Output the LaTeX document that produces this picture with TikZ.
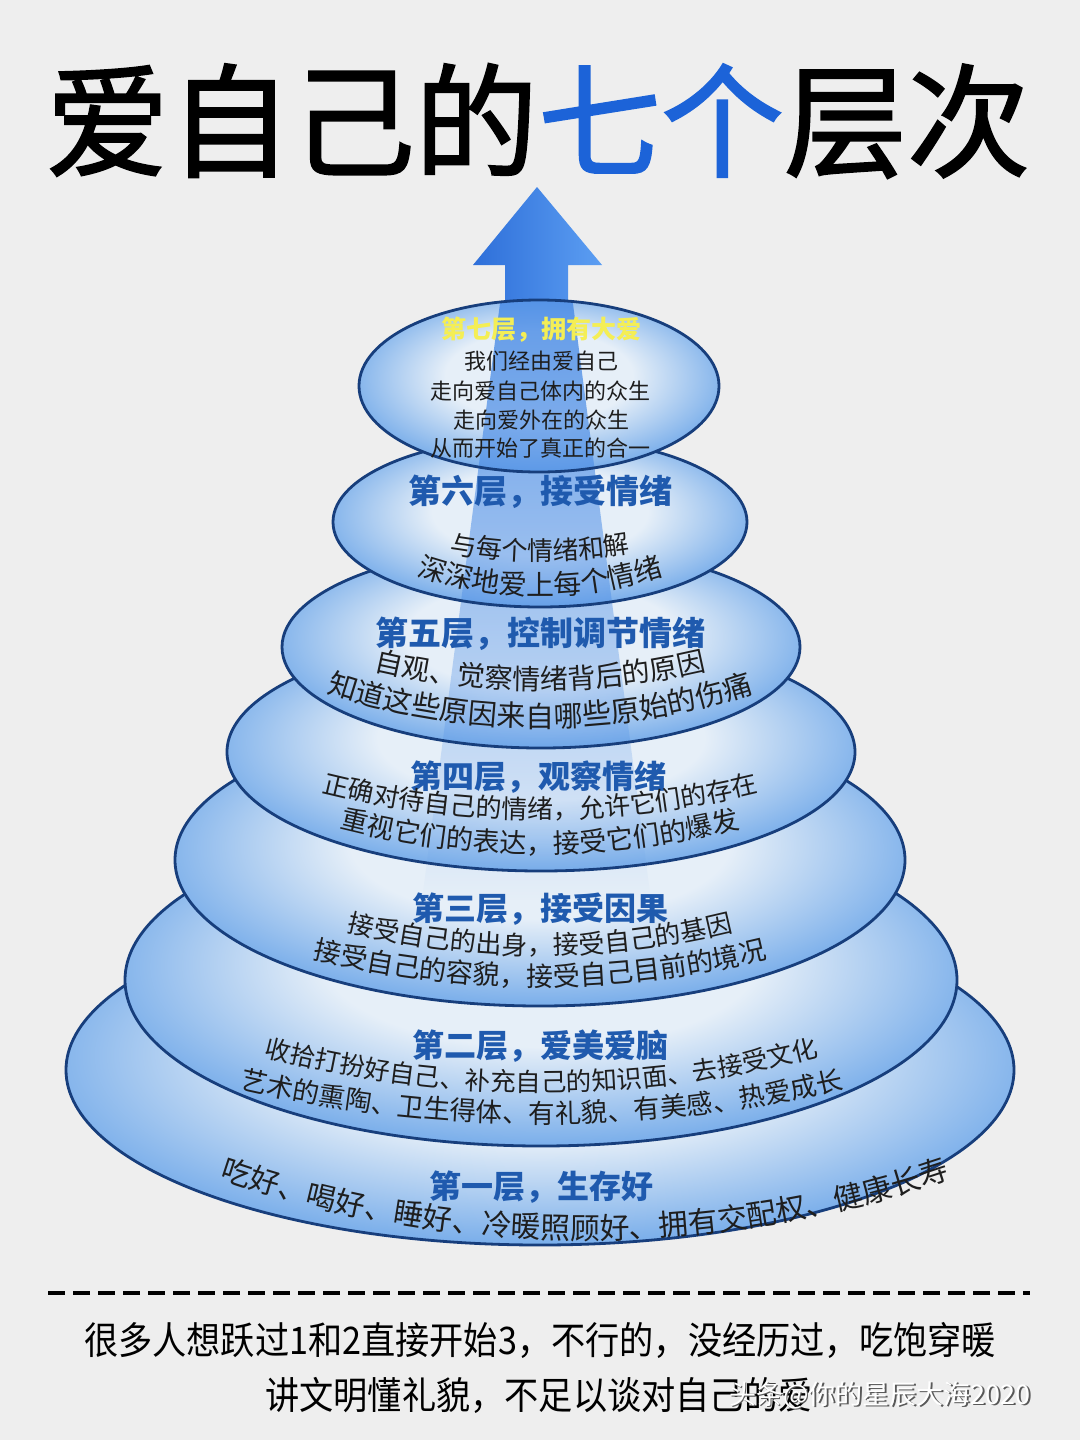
\documentclass[tikz,border=0pt]{standalone}
\usepackage{fontspec}
\setmainfont{Noto Sans CJK SC}
\newfontfamily\titlefont{Noto Sans CJK SC}[FakeBold=1.6]
\usepackage{graphicx}
\usetikzlibrary{decorations.text,fadings}
\definecolor{bgcol}{HTML}{EEEEEE}
\definecolor{lyrin}{HTML}{E6EFF8}
\definecolor{lyrout}{HTML}{78ADEA}
\definecolor{outlinec}{HTML}{173E7C}
\definecolor{headblue}{HTML}{1F5AAE}
\definecolor{bodytext}{HTML}{1E1E1E}
\definecolor{beamblue}{HTML}{4A8CE6}
\definecolor{headyellow}{HTML}{F4EE55}
\definecolor{titleblue}{HTML}{1C63D8}
\definecolor{arrowa}{HTML}{2E6FD9}
\definecolor{arrowb}{HTML}{5C9EF2}
\pgfdeclareradialshading{layershade}{\pgfpoint{0bp}{4bp}}{color(0bp)=(lyrin); color(13bp)=(lyrin); color(27bp)=(lyrout); color(50bp)=(lyrout)}
\tikzfading[name=beamfade, top color=transparent!10, bottom color=transparent!100]
% cx, ymid (glyph centre at lowest point), R, half angle, font size, text
\newcommand{\curvetext}[6]{%
  \path[decorate, decoration={text along path, text align=center,
    text={|\fontsize{#5}{#5}\selectfont\color{bodytext}|#6}}]
    ([shift={(90+#4:#3)}] #1,{#2+0.38*#5-#3}) arc[start angle=90+#4, end angle=90-#4, radius=#3];}
\newcommand{\beampath}{(505,265) -- (568,265) -- (651,900) -- (422,900) -- cycle}
\newcommand{\drawlayer}[4]{%
  \shade[shading=layershade] (#1,#2) ellipse [x radius=#3, y radius=#4];
  \begin{scope}
    \clip (#1,#2) ellipse [x radius=#3, y radius=#4];
    \fill[beamblue, path fading=beamfade] \beampath;
  \end{scope}
  \draw[outline] (#1,#2) ellipse [x radius=#3, y radius=#4];}
\begin{document}
\begin{tikzpicture}[x=1pt,y=-1pt,
  outline/.style={draw=outlinec, line width=2.8pt},
  head/.style={font=\fontsize{32}{32}\selectfont\bfseries, text=headblue, inner sep=0pt},
  toptext/.style={font=\fontsize{22}{22}\selectfont, text=bodytext, inner sep=0pt},
  bottomtext/.style={font=\fontsize{38}{38}\selectfont, text=black, inner sep=0pt}]
\useasboundingbox (0,0) rectangle (1080,1440);
\fill[bgcol] (0,0) rectangle (1080,1440);
% title
\node[inner sep=0pt, font=\titlefont\fontsize{123}{123}\selectfont] (title) at (538,121) {爱自己的\textcolor{titleblue}{七个}层次};
% arrow
\shade[left color=arrowa, right color=arrowb] (537,187) -- (602,265) -- (568,265) -- (568,330) -- (505,330) -- (505,265) -- (473,265) -- cycle;
% layers, bottom to top
\drawlayer{540}{1070}{474}{175}
\drawlayer{541}{980}{416}{166}
\drawlayer{540}{860}{365}{146}
\drawlayer{541}{752}{314}{119}
\drawlayer{541}{647}{259}{101}
\drawlayer{540}{522}{207}{85}
\drawlayer{539}{386}{180}{86}
% layer 7
\node[inner sep=0pt, font=\fontsize{25}{25}\selectfont\bfseries, text=headyellow] (h7) at (541,330) {第七层，拥有大爱};
\node[toptext] (t7a) at (541,361) {我们经由爱自己};
\node[toptext] (t7b) at (540,391) {走向爱自己体内的众生};
\node[toptext] (t7c) at (541,420) {走向爱外在的众生};
\node[toptext] (t7d) at (540,448) {从而开始了真正的合一};
% layer 6
\node[head, font=\fontsize{33}{33}\selectfont\bfseries] (h6) at (540,492) {第六层，接受情绪};
\curvetext{540}{551}{520}{30}{26}{与每个情绪和解}
\curvetext{540}{585}{380}{40}{28}{深深地爱上每个情绪}
% layer 5
\node[head, font=\fontsize{33}{33}\selectfont\bfseries] (h5) at (540,634) {第五层，控制调节情绪};
\curvetext{540}{679}{720}{30}{28}{自观、觉察情绪背后的原因}
\curvetext{540}{716}{680}{40}{29}{知道这些原因来自哪些原始的伤痛}
% layer 4
\node[head] (h4) at (538,777) {第四层，观察情绪};
\curvetext{540}{809}{900}{35}{26}{正确对待自己的情绪，允许它们的存在}
\curvetext{540}{843}{800}{35}{27}{重视它们的表达，接受它们的爆发}
% layer 3
\node[head] (h3) at (540,909) {第三层，接受因果};
\curvetext{540}{945}{800}{35}{26}{接受自己的出身，接受自己的基因}
\curvetext{540}{976}{950}{30}{27}{接受自己的容貌，接受自己目前的境况}
% layer 2
\node[head] (h2) at (540,1046) {第二层，爱美爱脑};
\curvetext{541}{1082}{1100}{30}{25.5}{收拾打扮好自己、补充自己的知识面、去接受文化}
\curvetext{542}{1113}{1350}{25}{26.5}{艺术的熏陶、卫生得体、有礼貌、有美感、热爱成长}
% layer 1
\node[head] (h1) at (541,1187) {第一层，生存好};
\curvetext{585}{1228}{1130}{30}{29.8}{吃好、喝好、睡好、冷暖照顾好、拥有交配权、健康长寿}
% dashed separator
\coordinate (dl) at (48,1293);
\coordinate (dr) at (1030,1293);
\draw[black, line width=4.5pt, dash pattern=on 17pt off 8pt] (dl) -- (dr);
% bottom text
\node[bottomtext] (b1) at (540,1340) {\scalebox{0.9}[1]{很多人想跃过1和2直接开始3，不行的，没经历过，吃饱穿暖}};
\node[bottomtext, anchor=west] (b2) at (265,1395) {\scalebox{0.9}[1]{讲文明懂礼貌，不足以谈对自己的爱}};
% watermark
\node[anchor=west, inner sep=0pt, font=\fontsize{27}{27}\selectfont, text=black!65] (wmshadow) at (730.5,1396.5) {头条@你的星辰大海2020};
\node[anchor=west, inner sep=0pt, font=\fontsize{27}{27}\selectfont, text=white] (wm) at (729,1395) {头条@你的星辰大海2020};
\end{tikzpicture}
\end{document}
